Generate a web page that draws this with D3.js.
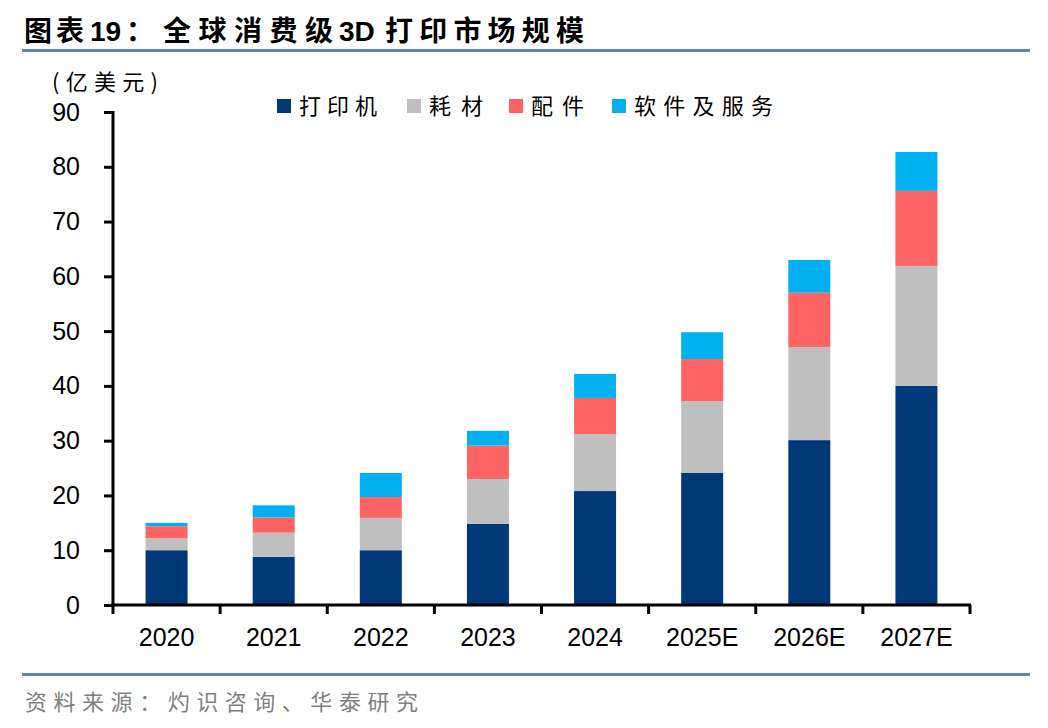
<!DOCTYPE html>
<html><head><meta charset="utf-8">
<script src="https://cdn.jsdelivr.net/npm/d3@7"></script>
<style>body{margin:0;background:#fff}svg{display:block}</style>
</head><body>
<svg id="c" width="1048" height="728"></svg>
<script>
const categories = ["2020","2021","2022","2023","2024","2025E","2026E","2027E"];
const seriesNames = ["打印机","耗材","配件","软件及服务"];
const printer   = [10.0, 8.8, 10.0, 14.8, 20.8, 24.1, 30.1, 40.0];
const consumables = [2.2, 4.4, 5.9, 8.2, 10.4, 13.1, 17.0, 21.9];
const accessories = [2.2, 2.8, 3.8, 6.1, 6.6, 7.7, 9.9, 13.7];
const software  = [0.6, 2.2, 4.4, 2.7, 4.4, 4.9, 6.0, 7.1];
const yTicks = [0,10,20,30,40,50,60,70,80,90];
const colors = ["#003878","#bfbfbf","#ff6464","#00b0f0"];

const svg = d3.select("#c");
const CJK = "'Noto Sans CJK SC','Noto Sans',sans-serif";
const LAT = "'Liberation Sans',Arial,sans-serif";

// header title in pieces
function tpiece(txt, x0, fam, len){
  const t = svg.append("text").attr("x",x0).attr("y",41).attr("font-family",fam).attr("font-weight","bold")
    .attr("font-size",28).attr("fill","#000").text(txt);
  if(len) t.attr("textLength",len).attr("lengthAdjust","spacing");
  return t;
}
tpiece("图表",24,CJK,60);
tpiece("19",90,LAT,null);
tpiece("：",126,CJK,null);
tpiece("全球消费级",163,CJK,170);
tpiece("3D",339,LAT,null);
tpiece("打印市场规模",385,CJK,199);

svg.append("rect").attr("x",22).attr("y",49).attr("width",1008).attr("height",3).attr("fill","#6384aa");
svg.append("rect").attr("x",22).attr("y",673).attr("width",1008).attr("height",3).attr("fill","#6384aa");
svg.append("text").attr("x",25).attr("y",710).attr("font-family",CJK).attr("font-size",22)
  .attr("fill","#7f7f7f").attr("textLength",393).attr("lengthAdjust","spacing").text("资料来源：灼识咨询、华泰研究");

// scales
const xb = d3.scaleBand().domain(categories).range([113,970]);
const y = d3.scaleLinear().domain([0,90]).range([605,112]);

const rows = categories.map((c,i)=>({cat:c, "打印机":printer[i], "耗材":consumables[i], "配件":accessories[i], "软件及服务":software[i]}));
const stack = d3.stack().keys(seriesNames)(rows);

const g = svg.append("g");
stack.forEach((s,si)=>{
  g.selectAll(null).data(s).enter().append("rect")
    .attr("x",d=>xb(d.data.cat)+xb.bandwidth()/2-21)
    .attr("width",42)
    .attr("y",d=>y(d[1]))
    .attr("height",d=>y(d[0])-y(d[1]))
    .attr("fill",colors[si]);
});

// y axis
const yAxis = svg.append("g").attr("transform","translate(113,0)")
  .call(d3.axisLeft(y).tickValues(yTicks).tickSize(9).tickPadding(24).tickFormat(d3.format("d")));
yAxis.select(".domain").attr("stroke","#000").attr("stroke-width",3).attr("d","M0,111V605");
yAxis.selectAll(".tick line").attr("stroke","#000").attr("stroke-width",3);
yAxis.selectAll(".tick text").attr("font-family",LAT).attr("font-size",25).attr("fill","#000");

// x axis
const xAxis = svg.append("g").attr("transform","translate(0,605)")
  .call(d3.axisBottom(xb).tickSize(0).tickPadding(23));
xAxis.select(".domain").attr("stroke","#000").attr("stroke-width",3).attr("d","M111,0H971");
xAxis.selectAll(".tick text").attr("font-family",LAT).attr("font-size",25).attr("fill","#000");
const bounds = categories.map(c=>xb(c)).concat([xb.range()[1]]);
svg.append("g").selectAll(null).data(bounds).enter().append("line")
  .attr("x1",d=>d).attr("x2",d=>d).attr("y1",605).attr("y2",614)
  .attr("stroke","#000").attr("stroke-width",3);

// unit label
svg.append("text").attr("x",52).attr("y",90).attr("font-family",CJK).attr("font-size",22)
  .attr("fill","#000").attr("textLength",106).attr("lengthAdjust","spacing").text("(亿美元)");

// legend
const legX = [277,407,509,612];
const legW = [78,54,53,139];
seriesNames.forEach((n,i)=>{
  svg.append("rect").attr("x",legX[i]).attr("y",99).attr("width",14).attr("height",14).attr("fill",colors[i]);
  svg.append("text").attr("x",legX[i]+22).attr("y",114).attr("font-family",CJK).attr("font-size",22)
    .attr("fill","#000").attr("textLength",legW[i]).attr("lengthAdjust","spacing").text(n);
});
</script>
</body></html>
